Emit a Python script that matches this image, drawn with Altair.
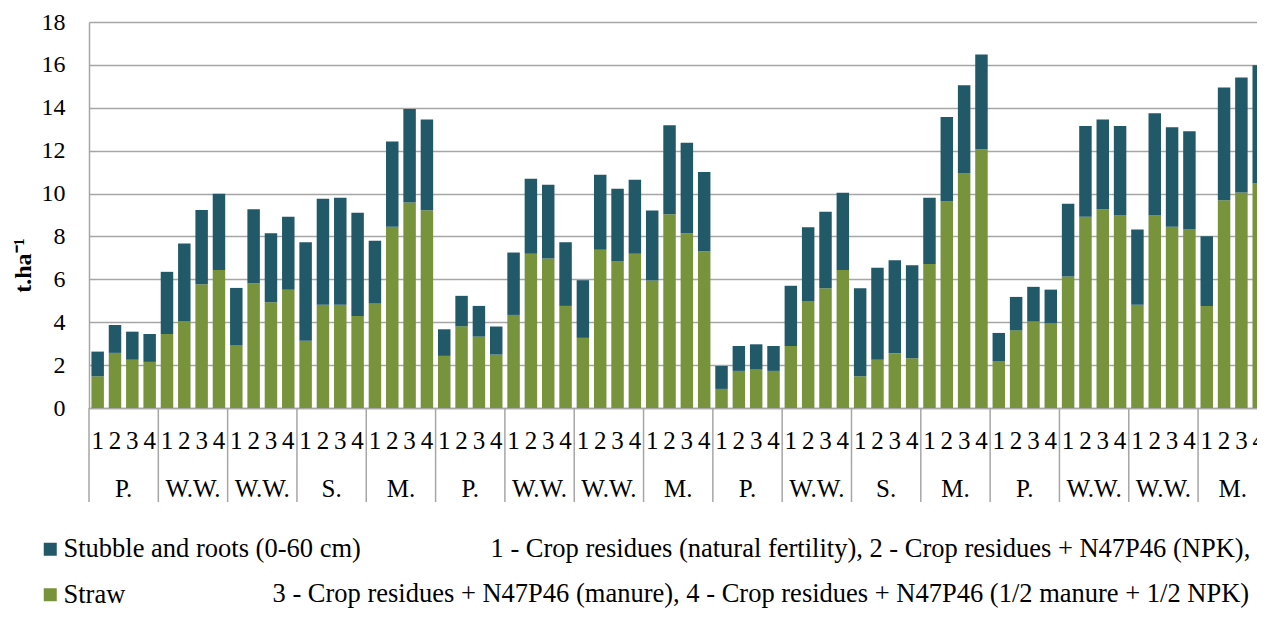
import altair as alt
import pandas as pd

crops = ["P.", "W.W.", "W.W.", "S.", "M.", "P.", "W.W.", "W.W.", "M.",
         "P.", "W.W.", "S.", "M.", "P.", "W.W.", "W.W.", "M."]
treatments = ["1", "2", "3", "4"]

straw = [1.48, 2.57, 2.25, 2.15,
         3.45, 4.03, 5.77, 6.43,
         2.91, 5.82, 4.93, 5.52,
         3.14, 4.82, 4.82, 4.29,
         4.87, 8.45, 9.58, 9.22,
         2.43, 3.81, 3.33, 2.49,
         4.34, 7.19, 6.97, 4.76,
         3.27, 7.38, 6.83, 7.19,
         5.94, 9.04, 8.15, 7.31,
         0.89, 1.73, 1.79, 1.73,
         2.89, 4.99, 5.58, 6.43,
         1.48, 2.25, 2.55, 2.32,
         6.72, 9.63, 10.94, 12.07,
         2.19, 3.62, 4.03, 3.94,
         6.13, 8.92, 9.27, 8.98,
         4.82, 8.98, 8.45, 8.32,
         4.76, 9.69, 10.05, 10.47]

stubble = [1.15, 1.30, 1.31, 1.30,
           2.90, 3.64, 3.46, 3.56,
           2.69, 3.45, 3.22, 3.40,
           4.59, 4.94, 4.98, 4.81,
           2.93, 3.98, 4.36, 4.23,
           1.24, 1.42, 1.43, 1.31,
           2.91, 3.50, 3.44, 2.97,
           2.69, 3.50, 3.39, 3.45,
           3.27, 4.15, 4.22, 3.69,
           1.07, 1.16, 1.18, 1.16,
           2.81, 3.44, 3.57, 3.61,
           4.10, 4.29, 4.34, 4.34,
           3.08, 3.94, 4.11, 4.41,
           1.31, 1.56, 1.62, 1.58,
           3.39, 4.23, 4.18, 4.17,
           3.50, 4.76, 4.64, 4.59,
           3.25, 5.25, 5.36, 5.51]

series_names = ["Stubble and roots (0-60 cm)", "Straw"]
colors = ["#215968", "#77933C"]
note1 = "1 - Crop residues (natural fertility), 2 - Crop residues + N47P46 (NPK),"
note2 = "3 - Crop residues + N47P46 (manure), 4 - Crop residues + N47P46 (1/2 manure + 1/2 NPK)"

FONT = "Liberation Serif, Times New Roman, serif"
GRID = "#a6a6a6"

rows = []
n = len(straw)
for i in range(n):
    rows.append({"i": i, "x0": i + 0.14, "x1": i + 0.86, "series": "Straw",
                 "y0": 0.0, "y1": straw[i]})
    rows.append({"i": i, "x0": i + 0.14, "x1": i + 0.86,
                 "series": series_names[0],
                 "y0": straw[i], "y1": straw[i] + stubble[i]})
df = pd.DataFrame(rows)

digits = pd.DataFrame({"pos": [i + 0.5 for i in range(n)],
                       "d": [treatments[i % 4] for i in range(n)]})
groups = pd.DataFrame({"crop": crops,
                       "center": [4 * g + 2 for g in range(len(crops))]})
seps = pd.DataFrame({"pos": [4 * g for g in range(len(crops) + 1)]})

# the reference image is cropped at its right edge, inside the last bar
xscale = alt.Scale(domain=[0, 67.4], nice=False, zero=False)

bars = alt.Chart(df).mark_bar(clip=True).encode(
    x=alt.X("x0:Q", scale=xscale,
            axis=alt.Axis(title=None, grid=False, ticks=False, labels=False,
                          domain=True, domainColor=GRID, domainWidth=1.5)),
    x2="x1:Q",
    y=alt.Y("y1:Q",
            scale=alt.Scale(domain=[0, 18], nice=False),
            axis=alt.Axis(values=list(range(0, 19, 2)), title="t.ha⁻¹",
                          grid=True, gridColor=GRID, gridWidth=1.5,
                          domain=True, domainColor=GRID, domainWidth=1.5,
                          ticks=False, labelFont=FONT, labelFontSize=24,
                          labelColor="#000", labelPadding=24,
                          titleFont=FONT, titleFontSize=24,
                          titleFontWeight="bold", titleColor="#000",
                          titleAngle=-90, titleX=-66, titleY=243,
                          titleAlign="center", titleBaseline="middle")),
    y2="y0:Q",
    color=alt.Color("series:N",
                    scale=alt.Scale(domain=series_names, range=colors),
                    legend=alt.Legend(title=None, orient="none",
                                      legendX=-52, legendY=514,
                                      direction="vertical",
                                      symbolType="square", symbolSize=169,
                                      symbolStrokeWidth=0,
                                      labelFont=FONT, labelFontSize=26.5,
                                      labelColor="#000", labelOffset=0,
                                      rowPadding=18.5, labelLimit=600)),
)

sep_rules = alt.Chart(seps).mark_rule(color=GRID, strokeWidth=1.5).encode(
    x=alt.X("pos:Q", scale=xscale),
    y=alt.value(386),
    y2=alt.value(480),
)

digit_text = alt.Chart(digits).mark_text(
    font=FONT, fontSize=25, color="#000", baseline="middle", align="center"
).encode(
    x=alt.X("pos:Q", scale=xscale),
    y=alt.value(419),
    text="d:N",
)

group_text = alt.Chart(groups).mark_text(
    font=FONT, fontSize=25, color="#000", baseline="middle", align="center"
).encode(
    x=alt.X("center:Q", scale=xscale),
    y=alt.value(467),
    text="crop:N",
)

notes = pd.DataFrame({"t": [note1, note2], "px": [401.5, 183.5], "py": [527, 572]})
note_text = alt.Chart(notes).mark_text(
    font=FONT, fontSize=26.5, color="#000", baseline="middle", align="left"
).encode(
    x=alt.X("px:Q", scale=None),
    y=alt.Y("py:Q", scale=None),
    text="t:N",
)

chart = alt.layer(bars, sep_rules, digit_text, group_text, note_text).properties(
    width=1168, height=386,
    autosize=alt.AutoSizeParams(type="none"),
    padding={"left": 81, "top": 14, "right": 0, "bottom": 200},
).configure_view(stroke=None).configure(background="white")

chart.save("out.html", embed_options={"renderer": "svg", "actions": False})
